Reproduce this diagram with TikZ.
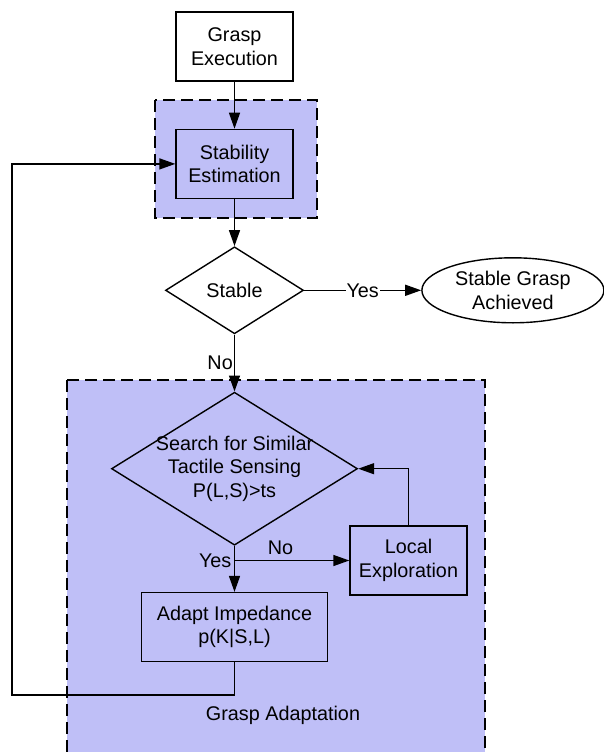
\documentclass[tikz,border=0pt]{standalone}
\usepackage{fontspec}
\setmainfont{Liberation Sans}
\usepackage{xcolor}
\definecolor{region-fill}{RGB}{191,191,247}
\definecolor{line-base}{RGB}{0,0,0}
\usepackage{tikz}
\usetikzlibrary{positioning,arrows.meta,shapes.geometric}

\begin{document}
\begin{tikzpicture}[
  x=1pt, y=-1pt,
  font=\fontsize{19.8}{23.5}\selectfont,
  block/.style={
    rectangle,
    draw=line-base,
    line width=1.4pt,
    inner sep=0pt,
    minimum width=117pt,
    minimum height=69pt,
    align=center
  },
  decision/.style={
    diamond,
    draw=line-base,
    line width=1.4pt,
    inner sep=0pt,
    align=center
  },
  terminal/.style={
    ellipse,
    draw=line-base,
    fill=white,
    line width=1.4pt,
    inner sep=0pt,
    minimum width=182pt,
    minimum height=65pt,
    align=center
  },
  region/.style={
    draw=line-base,
    fill=region-fill,
    line width=1.7pt,
    dash pattern=on 12pt off 6pt
  },
  arrow/.style={
    -{Triangle[length=16pt,width=11pt]},
    line width=1.4pt,
    draw=line-base
  },
  tag/.style={
    inner sep=1pt
  }
]

\useasboundingbox (0,0) rectangle (603,752);

% Shaded groups (drawn first, behind the blocks)
\draw[region] (155,100) rectangle (317,218);
\draw[region] (67,380) rectangle (485,760);

% Main flow from top to bottom
\node[block, fill=white] (exec) at (234.5,46.5) {Grasp\\Execution};
\node[block, fill=region-fill, below=47pt of exec] (stab) {Stability\\Estimation};
\node[decision, fill=white, minimum width=138pt, minimum height=87pt, below=47pt of stab] (stable) {Stable};
\node[terminal, right=117pt of stable] (done) {Stable Grasp\\Achieved};
\node[decision, fill=region-fill, minimum width=246pt, minimum height=153pt, below=57pt of stable] (search) {};
\node[align=center] (searchtxt) at (search.center) {Search for Similar\\Tactile Sensing\\P(L,S)>ts};
\node[block, fill=region-fill, minimum width=186pt, below=46pt of search] (adapt) {Adapt Impedance\\p(K|S,L)};
\node[block, fill=region-fill] (local) at (408.5,560.5) {Local\\Exploration};

% Group label
\node (adaptlabel) at (283,715) {Grasp Adaptation};

% Connectors
\coordinate (split) at (search.south |- local.west);
\coordinate (back) at (12,695);

\draw[arrow] (exec) -- (stab);
\draw[arrow] (stab) -- (stable);
\draw[arrow] (stable.east) -- node[tag, fill=white] (yes1) {Yes} (done.west);
\draw[arrow] (stable.south) -- node[tag, left] (no1) {No} (search.north);
\draw[arrow] (search.south) -- (adapt.north);
\node[tag, left=2pt] (yes2) at (split) {Yes};
\draw[arrow] (split) -- node[tag, above=4pt, pos=0.4] (no2) {No} (local.west);
\draw[arrow] (local.north) |- (search.east);
\draw[arrow] (adapt.south) |- (back) |- (stab.west);

\end{tikzpicture}
\end{document}
